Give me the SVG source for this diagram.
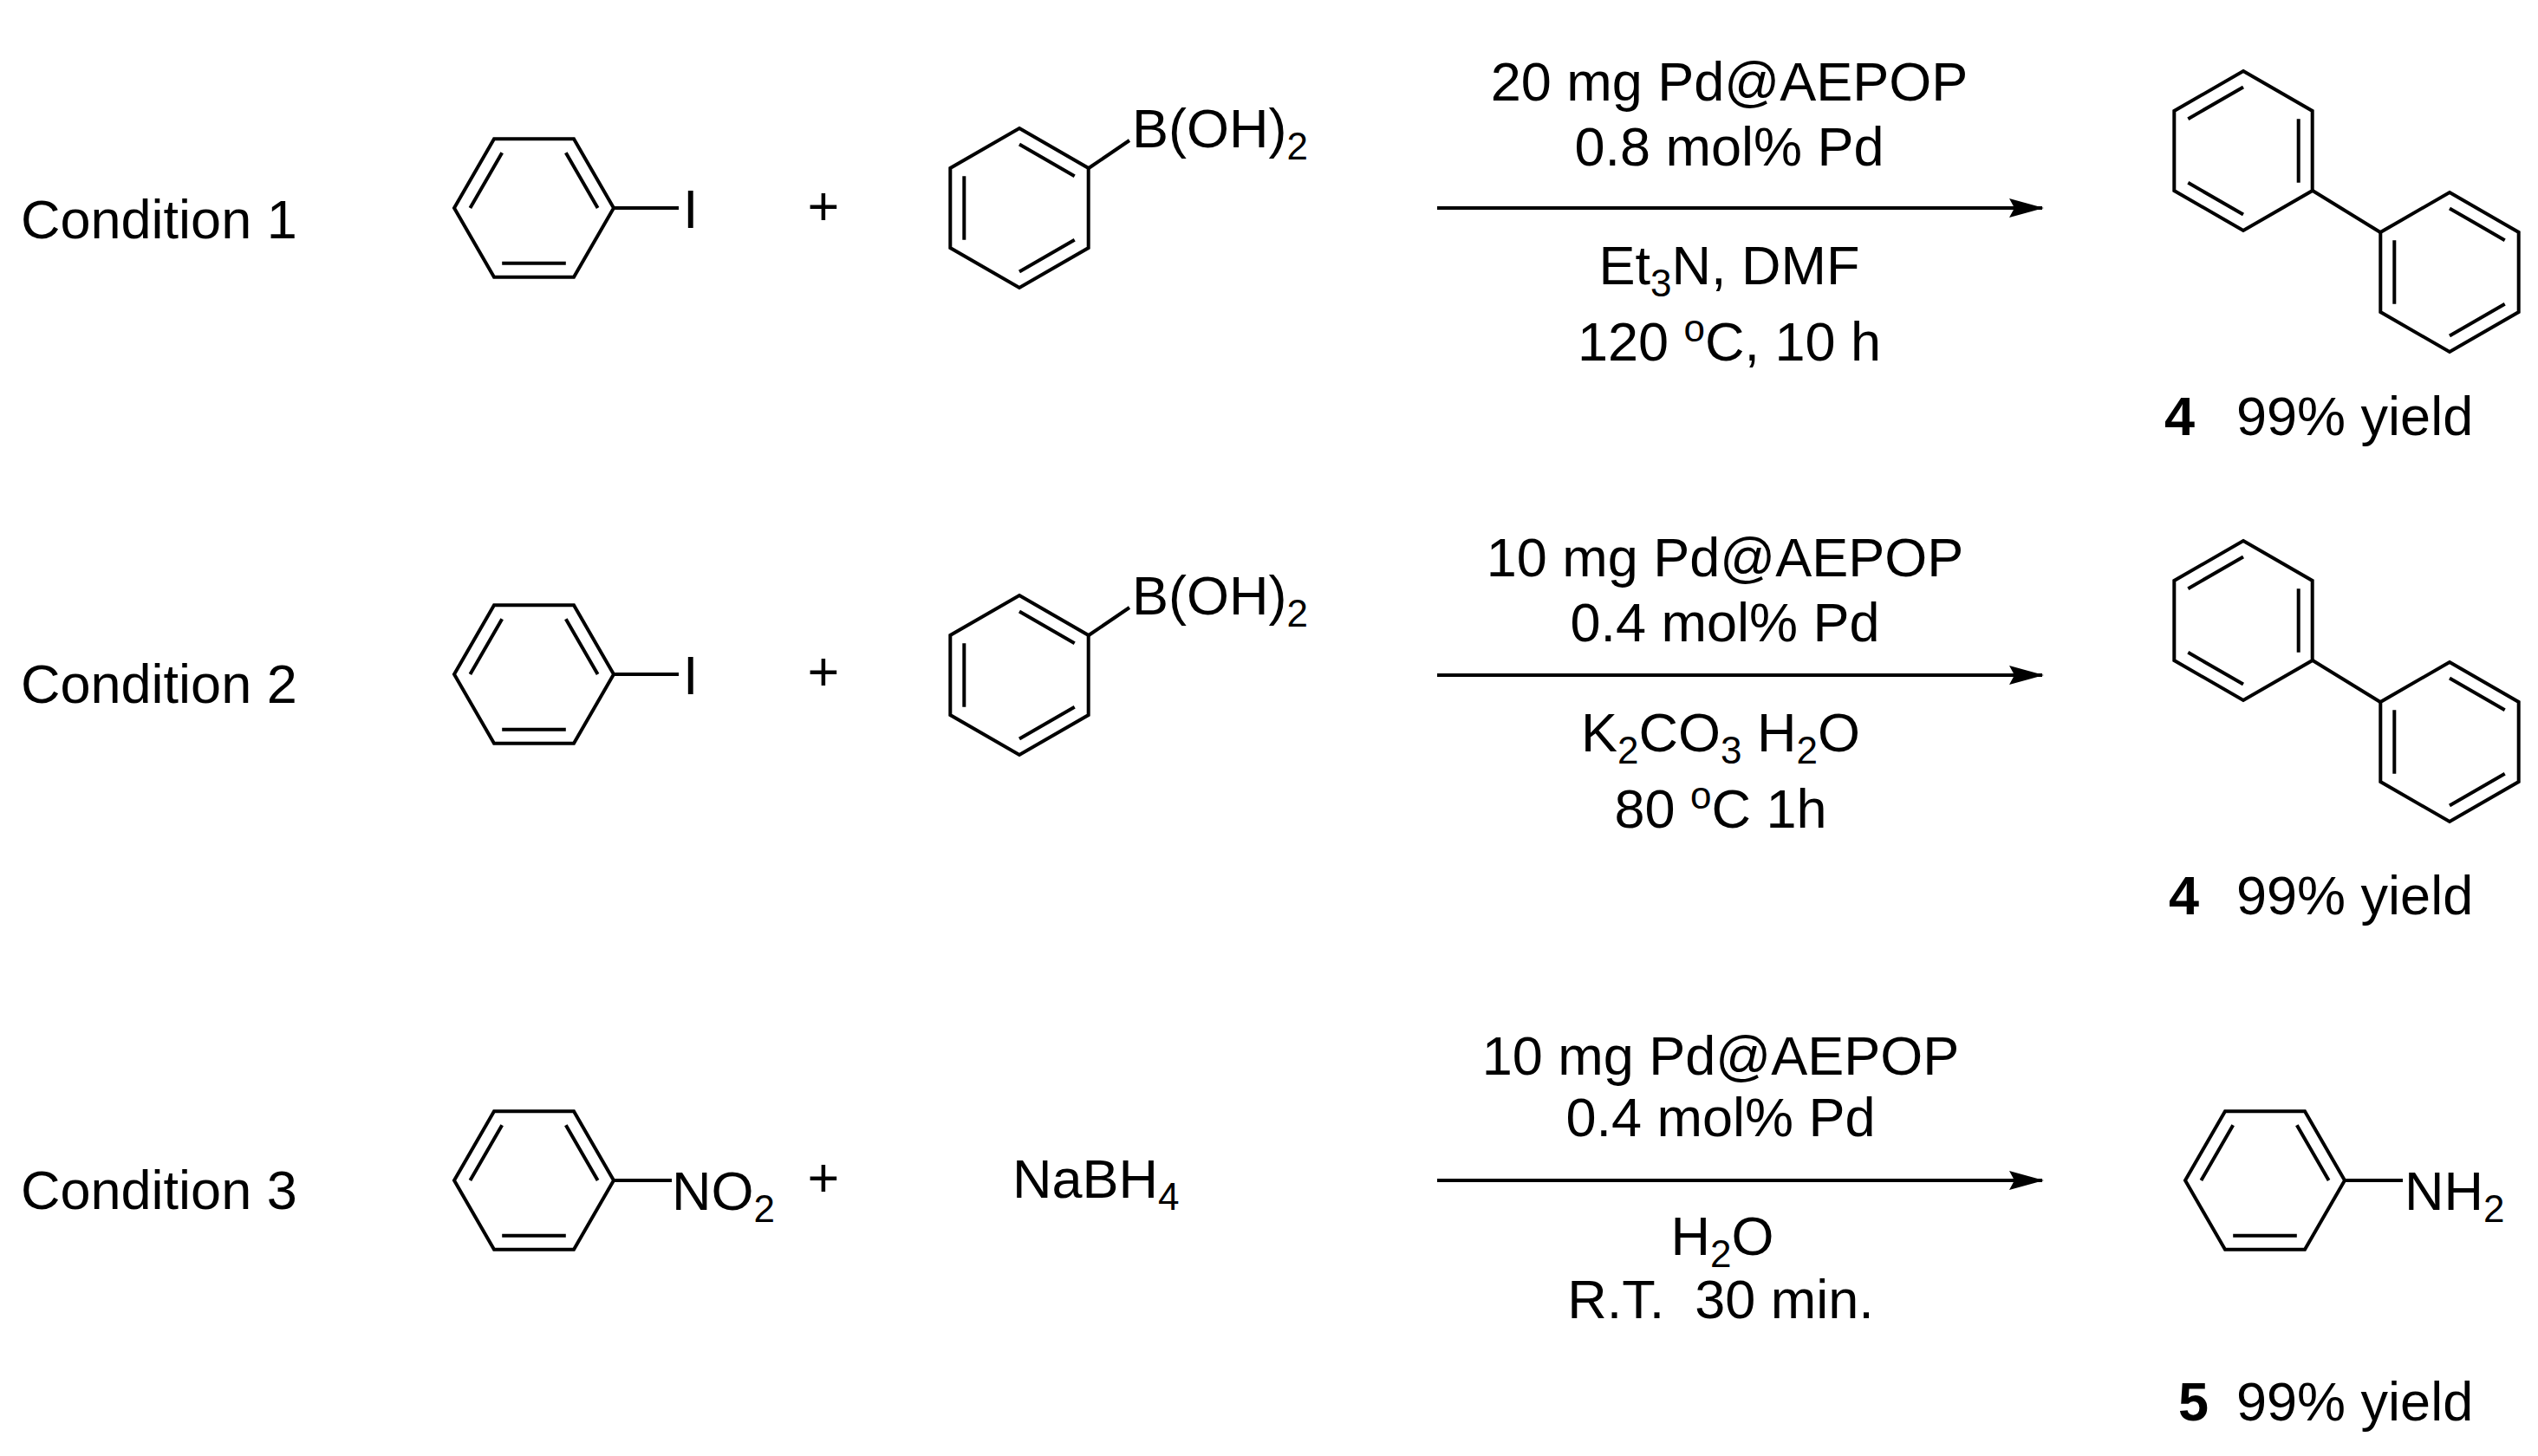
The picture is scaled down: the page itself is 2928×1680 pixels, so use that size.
<svg xmlns="http://www.w3.org/2000/svg" width="2928" height="1680" viewBox="0 0 2928 1680">
<style>
text{font-family:"Liberation Sans",Arial,sans-serif;font-size:63px;fill:#000}
.c{text-anchor:middle}
.b{font-weight:bold}
.s{font-size:44px}
line,polygon,path{stroke:#000;stroke-width:4;fill:none}
</style>
<defs>
<g id="flat">
<polygon points="-92,0 -46,-79.7 46,-79.7 92,0 46,79.7 -46,79.7"/>
<path d="M-73.6,0 L-36.8,-63.7 M36.8,-63.7 L73.6,0 M36.8,63.7 L-36.8,63.7"/>
</g>
<g id="pt1">
<polygon points="0,-92 79.7,-46 79.7,46 0,92 -79.7,46 -79.7,-46"/>
<path d="M0,-73.6 L63.7,-36.8 M63.7,36.8 L0,73.6 M-63.7,36.8 L-63.7,-36.8"/>
</g>
<g id="pt2">
<polygon points="0,-92 79.7,-46 79.7,46 0,92 -79.7,46 -79.7,-46"/>
<path d="M0,-73.6 L-63.7,-36.8 M63.7,-36.8 L63.7,36.8 M-63.7,36.8 L0,73.6"/>
</g>
<marker id="ah" markerWidth="40" markerHeight="22" refX="38" refY="11" orient="auto" markerUnits="userSpaceOnUse" viewBox="0 0 40 22">
<path d="M0,0 L40,11 L0,22 L6,11 Z" style="fill:#000;stroke:none"/>
</marker>
</defs>

<g id="labels">
<text x="24" y="275">Condition 1</text>
<text x="24" y="811">Condition 2</text>
<text x="24" y="1395">Condition 3</text>
</g>

<g id="row1-iodobenzene"><use href="#flat" x="616" y="240"/><line x1="708" y1="240" x2="783" y2="240"/><text x="788" y="263">I</text></g>
<g id="row1-plus"><text class="c" x="950" y="260">+</text></g>
<g id="row1-boronic"><use href="#pt1" x="1176" y="240"/><line x1="1256" y1="194" x2="1303" y2="162"/><text x="1306" y="170">B(OH)<tspan class="s" dy="14">2</tspan></text></g>
<g id="row1-conditions">
<text class="c" x="1995" y="116">20 mg Pd@AEPOP</text>
<text class="c" x="1995" y="191">0.8 mol% Pd</text>
<text class="c" x="1995" y="328">Et<tspan class="s" dy="14">3</tspan><tspan dy="-14">N, DMF</tspan></text>
<text class="c" x="1995" y="416">120 <tspan class="s" dy="-22">o</tspan><tspan dy="22">C, 10 h</tspan></text>
</g>
<g id="row1-product"><use href="#pt2" x="2588" y="174"/><use href="#pt1" x="2826" y="314"/><line x1="2668" y1="220" x2="2746" y2="268"/>
<text x="2497" y="502"><tspan class="b">4</tspan></text><text x="2580" y="502">99% yield</text></g>

<g id="row2-iodobenzene"><use href="#flat" x="616" y="778"/><line x1="708" y1="778" x2="783" y2="778"/><text x="788" y="801">I</text></g>
<g id="row2-plus"><text class="c" x="950" y="797">+</text></g>
<g id="row2-boronic"><use href="#pt1" x="1176" y="779"/><line x1="1256" y1="733" x2="1303" y2="701"/><text x="1306" y="709">B(OH)<tspan class="s" dy="14">2</tspan></text></g>
<g id="row2-conditions">
<text class="c" x="1990" y="665">10 mg Pd@AEPOP</text>
<text class="c" x="1990" y="740">0.4 mol% Pd</text>
<text class="c" x="1985" y="867">K<tspan class="s" dy="14">2</tspan><tspan dy="-14">CO</tspan><tspan class="s" dy="14">3</tspan><tspan dy="-14"> H</tspan><tspan class="s" dy="14">2</tspan><tspan dy="-14">O</tspan></text>
<text class="c" x="1985" y="955">80 <tspan class="s" dy="-22">o</tspan><tspan dy="22">C 1h</tspan></text>
</g>
<g id="row2-product"><use href="#pt2" x="2588" y="716"/><use href="#pt1" x="2826" y="856"/><line x1="2668" y1="762" x2="2746" y2="810"/>
<text x="2502" y="1055"><tspan class="b">4</tspan></text><text x="2580" y="1055">99% yield</text></g>

<g id="row3-nitrobenzene"><use href="#flat" x="616" y="1362"/><line x1="708" y1="1362" x2="775" y2="1362"/><text x="775" y="1396">NO<tspan class="s" dy="14">2</tspan></text></g>
<g id="row3-plus"><text class="c" x="950" y="1381">+</text></g>
<g id="row3-nabh4"><text x="1168" y="1382">NaBH<tspan class="s" dy="14">4</tspan></text></g>
<g id="row3-conditions">
<text class="c" x="1985" y="1240">10 mg Pd@AEPOP</text>
<text class="c" x="1985" y="1311">0.4 mol% Pd</text>
<text class="c" x="1987" y="1448">H<tspan class="s" dy="14">2</tspan><tspan dy="-14">O</tspan></text>
<text class="c" x="1985" y="1521" xml:space="preserve">R.T.  30 min.</text>
</g>
<g id="row3-product"><use href="#flat" x="2613" y="1362"/><line x1="2705" y1="1362" x2="2772" y2="1362"/><text x="2774" y="1396">NH<tspan class="s" dy="14">2</tspan></text>
<text x="2513" y="1639"><tspan class="b">5</tspan></text><text x="2580" y="1639">99% yield</text></g>

<g id="connectors">
<line x1="1658" y1="240" x2="2356" y2="240" marker-end="url(#ah)"/>
<line x1="1658" y1="779" x2="2356" y2="779" marker-end="url(#ah)"/>
<line x1="1658" y1="1362" x2="2356" y2="1362" marker-end="url(#ah)"/>
</g>
</svg>
